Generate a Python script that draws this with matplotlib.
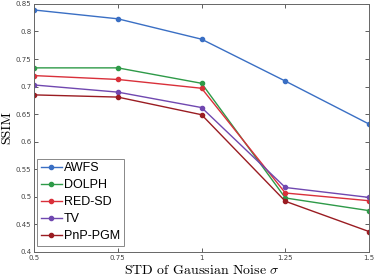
import numpy as np
import matplotlib
matplotlib.use("Agg")
import matplotlib.pyplot as plt

# noise levels (sigma) and SSIM per method
sigma = [0.5, 0.75, 1.0, 1.25, 1.5]
awfs = [0.839, 0.823, 0.786, 0.710, 0.632]
dolph = [0.734, 0.734, 0.706, 0.498, 0.475]
red_sd = [0.720, 0.713, 0.697, 0.507, 0.493]
tv = [0.703, 0.690, 0.662, 0.517, 0.499]
pnp_pgm = [0.685, 0.681, 0.649, 0.492, 0.437]

xticks = [0.5, 0.75, 1, 1.25, 1.5]
xtick_labels = ["0.5", "0.75", "1", "1.25", "1.5"]
yticks = [0.4, 0.45, 0.5, 0.55, 0.6, 0.65, 0.7, 0.75, 0.8, 0.85]
ytick_labels = ["0.4", "0.45", "0.5", "0.55", "0.6", "0.65", "0.7", "0.75", "0.8", "0.85"]

plt.rcParams["mathtext.fontset"] = "cm"

fig = plt.figure(figsize=(3.74, 2.8), dpi=100)
ax = fig.add_axes([0.091, 0.1, 0.896, 0.886])

series = [
    ("AWFS", awfs, "#3a6fc4"),
    ("DOLPH", dolph, "#2e9a48"),
    ("RED-SD", red_sd, "#d9303a"),
    ("TV", tv, "#7048b0"),
    ("PnP-PGM", pnp_pgm, "#9a1c22"),
]
for name, vals, col in series:
    ax.plot(sigma, vals, color=col, lw=1.0, marker="o", ms=3, label=name)

ax.set_xlim(0.5, 1.5)
ax.set_ylim(0.4, 0.85)
ax.set_xticks(xticks)
ax.set_xticklabels(xtick_labels)
ax.set_yticks(yticks)
ax.set_yticklabels(ytick_labels)
ax.tick_params(direction="in", top=True, right=True, labelsize=5, length=3,
               width=0.6, colors="#444444", pad=2)
for sp in ax.spines.values():
    sp.set_color("#666666")
    sp.set_linewidth(0.7)

ax.set_xlabel(r"STD of Gaussian Noise $\sigma$", fontsize=10,
              family="serif", fontname="cmr10", labelpad=2)
ax.set_ylabel("SSIM", fontsize=10, family="serif", fontname="cmr10", labelpad=2)

leg = ax.legend(loc="lower left", prop={"family": "Liberation Sans", "size": 9},
                handlelength=1.7, handletextpad=0.15, borderpad=0.3,
                labelspacing=0.4, fancybox=False,
                bbox_to_anchor=(0.009, 0.024), borderaxespad=0.0)
leg.get_frame().set_edgecolor("#888888")
leg.get_frame().set_linewidth(0.7)
leg.get_frame().set_alpha(1.0)

fig.savefig("out.png", dpi=100)
